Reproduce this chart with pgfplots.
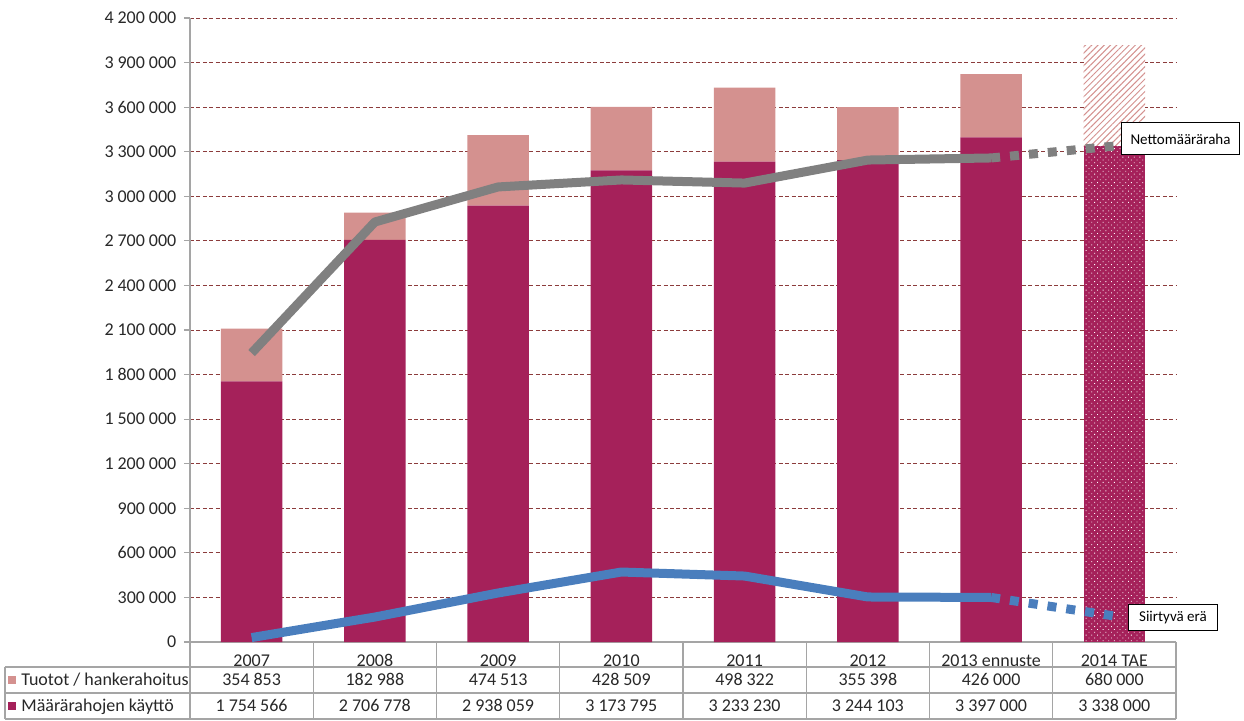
\documentclass[border=0pt]{standalone}
\usepackage{pgfplots}
\pgfplotsset{compat=1.18}
\usepackage{pgfplotstable}
\usetikzlibrary{patterns.meta}
\usepackage{fontspec}
\setmainfont{Carlito}
\definecolor{darkbar}{RGB}{165,33,90}
\definecolor{lightbar}{RGB}{212,145,143}
\definecolor{netgray}{RGB}{128,128,128}
\definecolor{siirblue}{RGB}{74,126,189}
\definecolor{gridred}{RGB}{140,60,60}
\definecolor{tablegray}{RGB}{165,165,165}
\definecolor{txt}{RGB}{40,40,40}
\newcommand{\ts}{\hspace{0.22em}}

\pgfplotstableread{
x maara tuotot maaraTAE tuototTAE
0 1754566 354853 0 0
1 2706778 182988 0 0
2 2938059 474513 0 0
3 3173795 428509 0 0
4 3233230 498322 0 0
5 3244103 355398 0 0
6 3397000 426000 0 0
7 0 0 3338000 680000
}\bars

\pgfplotstableread{
x netto siirtyva
0 1945000 30000
1 2827000 168000
2 3063000 330000
3 3110000 471000
4 3089000 444000
5 3244000 303000
6 3258000 300000
}\lines

\pgfplotstableread{
x netto siirtyva
6 3258000 300000
7 3338000 175000
}\linesdash

\begin{document}
\begin{tikzpicture}[font=\fontsize{9}{10.5}\selectfont, text=txt]
\begin{axis}[
  at={(0,0)}, anchor=south west,
  scale only axis, width=493pt, height=312pt,
  xmin=-0.5, xmax=7.5, ymin=0, ymax=4200000,
  ybar stacked, bar width=0.5,
  axis lines*=left,
  axis line style={tablegray, line width=0.6pt},
  xtick={0,...,7},
  xticklabels={2007,2008,2009,2010,2011,2012,2013 ennuste,2014 TAE},
  xtick style={draw=none},
  xticklabel style={anchor=base, yshift=-9.2pt, text=txt},
  ytick={0,300000,...,4200000},
  scaled y ticks=false,
  /pgf/number format/fixed,
  /pgf/number format/precision=0,
  /pgf/number format/1000 sep={\ts},
  /pgf/number format/assume math mode=true,
  yticklabel style={text=txt, xshift=-0.3pt},
  ytick style={tablegray, line width=0.6pt},
  tick align=outside,
  major tick length=3pt,
  ymajorgrids,
  major grid style={gridred, line width=0.5pt, dash pattern=on 2pt off 1.2pt},
]
\addplot[fill=darkbar, draw=none] table[x=x,y=maara]{\bars};
\addplot[fill=lightbar, draw=none] table[x=x,y=tuotot]{\bars};
\addplot[fill=darkbar, draw=none, postaction={pattern={Dots[radius=0.3pt, distance=2pt, angle=45]}, pattern color=white}] table[x=x,y=maaraTAE]{\bars};
\addplot[fill=white, draw=none, postaction={pattern={Lines[angle=45, distance=2.2pt, line width=0.5pt]}, pattern color=lightbar}] table[x=x,y=tuototTAE]{\bars};
\end{axis}

\begin{axis}[
  at={(0,0)}, anchor=south west,
  scale only axis, width=493pt, height=312pt,
  xmin=-0.5, xmax=7.5, ymin=0, ymax=4200000,
  axis lines=none, clip=false,
]
\addplot[netgray, line width=4.5pt, line join=round, mark=none] table[x=x,y=netto]{\lines};
\addplot[netgray, line width=4.5pt, dash pattern=on 4.5pt off 5pt, mark=none] table[x=x,y=netto]{\linesdash};
\addplot[siirblue, line width=4.5pt, line join=round, mark=none] table[x=x,y=siirtyva]{\lines};
\addplot[siirblue, line width=4.5pt, dash pattern=on 4.5pt off 5pt, mark=none] table[x=x,y=siirtyva]{\linesdash};
\node[draw=black, line width=0.5pt, fill=white, anchor=west, minimum width=59pt, minimum height=16pt, inner xsep=3pt, text=black, font=\fontsize{7.5}{9}\selectfont] at (axis cs:7.054,3386000) {Nettomääräraha};
\node[draw=black, line width=0.5pt, fill=white, anchor=west, minimum width=44.5pt, minimum height=12.5pt, inner xsep=3pt, text=black, font=\fontsize{7.5}{9}\selectfont] at (axis cs:7.11,165000) {Siirtyvä erä};
\end{axis}

% data table under the chart
\foreach \i in {0,...,8} {
  \draw[tablegray, line width=0.6pt] ({\i*61.625pt},0pt) -- ({\i*61.625pt},-38.5pt);
}
\draw[tablegray, line width=0.6pt] (-92.5pt,-12.5pt) -- (-92.5pt,-38.5pt);
\foreach \yy in {-12.5,-25.5,-38.5} {
  \draw[tablegray, line width=0.6pt] (-92.5pt,\yy pt) -- (493pt,\yy pt);
}
\fill[lightbar] (-90.8pt,-21pt) rectangle (-86.8pt,-17pt);
\fill[darkbar] (-90.8pt,-34pt) rectangle (-86.8pt,-30pt);
\node[anchor=base west, inner sep=0pt] at (-84.5pt,-21.9pt) {Tuotot / hankerahoitus};
\node[anchor=base west, inner sep=0pt] at (-84.5pt,-34.9pt) {Määrärahojen käyttö};
\foreach \v [count=\i from 0] in {354\ts853,182\ts988,474\ts513,428\ts509,498\ts322,355\ts398,426\ts000,680\ts000} {
  \node[anchor=base, inner sep=0pt] at ({(\i+0.5)*61.625pt},-21.9pt) {\v};
}
\foreach \v [count=\i from 0] in {1\ts754\ts566,2\ts706\ts778,2\ts938\ts059,3\ts173\ts795,3\ts233\ts230,3\ts244\ts103,3\ts397\ts000,3\ts338\ts000} {
  \node[anchor=base, inner sep=0pt] at ({(\i+0.5)*61.625pt},-34.9pt) {\v};
}
\pgfresetboundingbox
\path[use as bounding box] (-95pt,-39pt) rectangle (527pt,321pt);
\end{tikzpicture}
\end{document}
